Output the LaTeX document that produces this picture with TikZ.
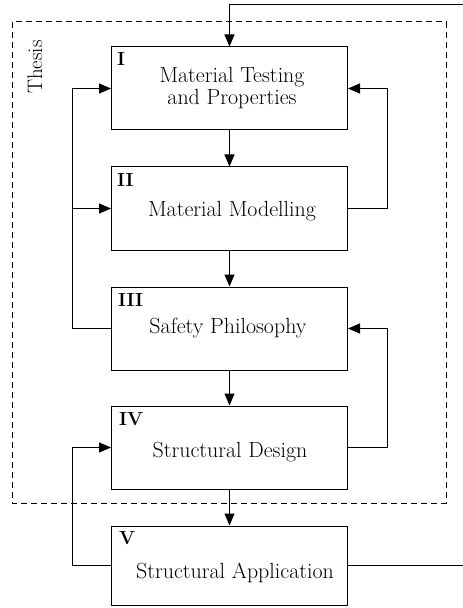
\documentclass[tikz,border=0pt]{standalone}
\usetikzlibrary{arrows.meta}
\begin{document}
\begin{tikzpicture}[x=1bp,y=-1bp,
  stage/.style={draw, line width=1bp, minimum width=236bp, minimum height=83bp, inner sep=0pt},
  num/.style={font=\fontsize{19}{22}\selectfont\bfseries, anchor=north west, inner sep=0pt},
  title/.style={font=\fontsize{22}{23}\selectfont, align=center, inner sep=0pt},
  link/.style={line width=1bp},
  arr/.style={link, -{Triangle[length=12bp,width=10bp]}}]
\useasboundingbox (0,0) rectangle (463,608);

% thesis boundary
\draw[line width=1bp, dash pattern=on 6bp off 4bp] (12,22) rectangle (446,503);
\node[rotate=90, font=\fontsize{21}{24}\selectfont, inner sep=0pt] (thesis) at (35,67) {Thesis};

% stages
\node[stage] (b1) at (229.5,88.5) {};
\node[stage] (b2) at (229.5,208.5) {};
\node[stage] (b3) at (229.5,328.5) {};
\node[stage] (b4) at (229.5,447.5) {};
\node[stage, minimum height=79bp] (b5) at (229.5,565.5) {};

\node[num] (n1) at (117,52) {I};
\node[num] (n2) at (117,173) {II};
\node[num] (n3) at (118,293) {III};
\node[num] (n4) at (119,412) {IV};
\node[num] (n5) at (119,531) {V};

\node[title] (t1) at (232,88) {Material Testing\\and Properties};
\node[title] (t2) at (232,211) {Material Modelling};
\node[title] (t3) at (228,328) {Safety Philosophy};
\node[title] (t4) at (230,452) {Structural Design};
\node[title] (t5) at (235,573) {Structural Application};

% helper coordinates
\coordinate (lx) at (72,0);
\coordinate (rx) at (387,0);
\coordinate (inR) at (463,5);
\coordinate (outR) at (463,565.5);

% main chain
\draw[arr] (inR) -| (b1.north);
\draw[arr] (b1.south) -- (b2.north);
\draw[arr] (b2.south) -- (b3.north);
\draw[arr] (b3.south) -- (b4.north);
\draw[arr] (b4.south) -- (b5.north);

% feedback loops
\draw[arr] (b3.west) -- (b3.west -| lx) |- (b1.west);
\draw[arr] (b2.west -| lx) -- (b2.west);
\draw[arr] (b2.east) -- (b2.east -| rx) |- (b1.east);
\draw[arr] (b4.east) -- (b4.east -| rx) |- (b3.east);
\draw[arr] (b5.west) -- (b5.west -| lx) |- (b4.west);
\draw[link] (b5.east) -- (outR);
\end{tikzpicture}
\end{document}
